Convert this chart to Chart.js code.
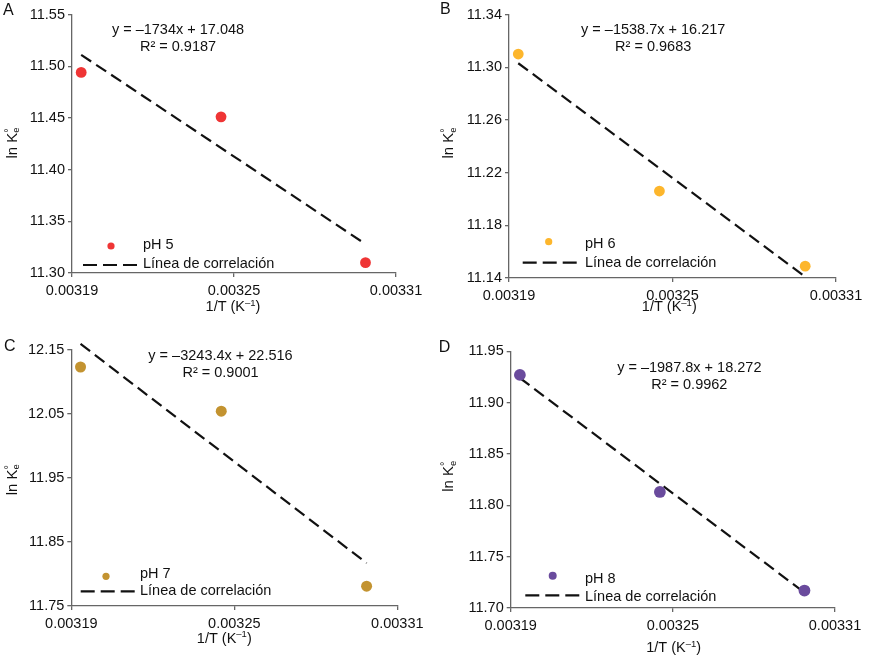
<!DOCTYPE html>
<html><head><meta charset="utf-8">
<script src="https://cdn.jsdelivr.net/npm/chart.js@4.4.1/dist/chart.umd.min.js"></script>
<style>
html,body{margin:0;padding:0;background:#fff;}
#wrap{position:relative;width:873px;height:657px;overflow:hidden;}
#wrap canvas{position:absolute;}
</style></head><body><div id="wrap"></div>
<script>
// ---- data ----
const invT = [0.0031934, 0.0032452, 0.0032987];        // 1/T (K^-1)
const lnK_pH5 = [11.494, 11.451, 11.310];
const lnK_pH6 = [11.310, 11.206, 11.149];
const lnK_pH7 = [12.123, 12.054, 11.781];
const lnK_pH8 = [11.927, 11.813, 11.717];
const trendX = [0.0031934, 0.0032987];
const trend_pH5 = [11.511, 11.328];
const trend_pH6 = [11.303, 11.141];
const trend_pH7 = [12.159, 11.817];
const trend_pH8 = [11.924, 11.715];
const xTicks = [0.00319, 0.00325, 0.00331];
const yTicks_pH5 = [11.30, 11.35, 11.40, 11.45, 11.50, 11.55];
const yTicks_pH6 = [11.14, 11.18, 11.22, 11.26, 11.30, 11.34];
const yTicks_pH7 = [11.75, 11.85, 11.95, 12.05, 12.15];
const yTicks_pH8 = [11.70, 11.75, 11.80, 11.85, 11.90, 11.95];
const seriesLabels = ['pH 5', 'pH 6', 'pH 7', 'pH 8'];
const trendLabel = 'Línea de correlación';
const equations = ['y = –1734x + 17.048', 'y = –1538.7x + 16.217', 'y = –3243.4x + 22.516', 'y = –1987.8x + 18.272'];
const r2Labels = ['R² = 0.9187', 'R² = 0.9683', 'R² = 0.9001', 'R² = 0.9962'];
const panelLetters = ['A', 'B', 'C', 'D'];

// ---- layout / style ----
const FONT = '"Liberation Sans", Arial, Helvetica, sans-serif';
const FS = 14.5;
const AXIS = '#666666';
const DASH = [12, 6];
const panels = [
  {y: lnK_pH5, trend: trend_pH5, yTicks: yTicks_pH5, color: '#ef3535',
   box: {x: 0, y: 0, w: 436, h: 328}, area: {l: 72, t: 14.5, r: 396, b: 273},
   letter: [3, 11], eq: [178, 30, 46.7], legPt: [111, 246], txt1: [143, 245], dash: [83, 137, 265], txt2: [143, 263.5],
   yTitle: [12.7, 143], xTitle: [233, 307], pr: 5.4, lr: 3.6},
  {y: lnK_pH6, trend: trend_pH6, yTicks: yTicks_pH6, color: '#fdb62c',
   box: {x: 436, y: 0, w: 437, h: 328}, area: {l: 73, t: 14.5, r: 400, b: 278},
   letter: [4, 10], eq: [217.2, 30, 46.7], legPt: [112.7, 241.7], txt1: [149, 244.3], dash: [86.7, 141.7, 262.7], txt2: [149, 263.3],
   yTitle: [13.3, 143], xTitle: [233.3, 307.3], pr: 5.4, lr: 3.6},
  {y: lnK_pH7, trend: trend_pH7, yTicks: yTicks_pH7, color: '#c39330',
   box: {x: 0, y: 328, w: 436, h: 329}, area: {l: 71.3, t: 21.7, r: 397.3, b: 278},
   letter: [4, 19], eq: [220.5, 28, 44.7], legPt: [106, 248.3], txt1: [140, 245.7], dash: [80.7, 135, 263.3], txt2: [140, 263.3],
   yTitle: [12.7, 151.7], xTitle: [224.3, 310.7], pr: 5.5, lr: 3.6},
  {y: lnK_pH8, trend: trend_pH8, yTicks: yTicks_pH8, color: '#6a4b9d',
   box: {x: 436, y: 328, w: 437, h: 329}, area: {l: 74.7, t: 23.3, r: 399, b: 280},
   letter: [2.7, 20], eq: [253.3, 40, 56.7], legPt: [116.7, 247.7], txt1: [149, 250.7], dash: [89.3, 144, 267.3], txt2: [149, 269.3],
   yTitle: [13.3, 148.3], xTitle: [237.7, 320], pr: 5.9, lr: 4}
];

const decor = {
  id: 'decor',
  afterDraw(chart, args, o) {
    const ctx = chart.ctx, p = o.p, i = o.i;
    ctx.save();
    ctx.fillStyle = '#111';
    ctx.textBaseline = 'middle';
    // letter
    ctx.font = '16px ' + FONT;
    ctx.textAlign = 'left';
    ctx.fillText(panelLetters[i], p.letter[0], p.letter[1]);
    // equation
    ctx.font = FS + 'px ' + FONT;
    ctx.textAlign = 'center';
    ctx.fillText(equations[i], p.eq[0], p.eq[1]);
    ctx.fillText(r2Labels[i], p.eq[0], p.eq[2]);
    // legend
    ctx.fillStyle = p.color;
    ctx.beginPath(); ctx.arc(p.legPt[0], p.legPt[1], p.lr, 0, Math.PI * 2); ctx.fill();
    ctx.strokeStyle = '#111'; ctx.lineWidth = 2.2; ctx.setLineDash([14, 6]);
    ctx.beginPath(); ctx.moveTo(p.dash[0], p.dash[2]); ctx.lineTo(p.dash[1], p.dash[2]); ctx.stroke();
    ctx.setLineDash([]);
    ctx.fillStyle = '#111';
    ctx.textAlign = 'left';
    ctx.fillText(seriesLabels[i], p.txt1[0], p.txt1[1]);
    ctx.fillText(trendLabel, p.txt2[0], p.txt2[1]);
    // x title: 1/T (K^-1)
    ctx.font = FS + 'px ' + FONT;
    const a = '1/T (K', b = '–1', c = ')';
    const small = '9.5px ' + FONT;
    const wa = ctx.measureText(a).width, wc = ctx.measureText(c).width;
    ctx.font = small; const wb = ctx.measureText(b).width;
    let x = p.xTitle[0] - (wa + wb + wc) / 2, yy = p.xTitle[1];
    ctx.font = FS + 'px ' + FONT; ctx.fillText(a, x, yy); x += wa;
    ctx.font = small; ctx.fillText(b, x, yy - 4); x += wb;
    ctx.font = FS + 'px ' + FONT; ctx.fillText(c, x, yy);
    // y title: ln Ke°
    ctx.translate(p.yTitle[0], p.yTitle[1]);
    ctx.rotate(-Math.PI / 2);
    ctx.font = '15px ' + FONT;
    const t = 'ln K', wt = ctx.measureText(t).width;
    ctx.font = small; const ws = Math.max(ctx.measureText('e').width, ctx.measureText('°').width);
    let xs = -(wt + ws) / 2;
    ctx.font = '15px ' + FONT; ctx.fillText(t, xs, 0); xs += wt;
    ctx.font = small; ctx.fillText('e', xs, 4);
    ctx.font = '11px ' + FONT; ctx.fillText('°', xs, -4);
    ctx.restore();
  }
};

panels.forEach((p, i) => {
  const cv = document.createElement('canvas');
  cv.width = p.box.w; cv.height = p.box.h;
  cv.style.left = p.box.x + 'px'; cv.style.top = p.box.y + 'px';
  cv.style.width = p.box.w + 'px'; cv.style.height = p.box.h + 'px';
  document.getElementById('wrap').appendChild(cv);
  const yt = p.yTicks;
  new Chart(cv, {
    type: 'scatter',
    data: {
      datasets: [
        {label: seriesLabels[i], data: invT.map((x, k) => ({x: x, y: p.y[k]})),
         backgroundColor: p.color, borderColor: p.color, pointRadius: p.pr, pointHoverRadius: p.pr, borderWidth: 0, order: 1},
        {label: trendLabel, type: 'line', data: trendX.map((x, k) => ({x: x, y: p.trend[k]})),
         borderColor: '#111', borderWidth: 2.2, borderDash: DASH, pointRadius: 0, fill: false, clip: false, order: 2}
      ]
    },
    options: {
      responsive: false, animation: false, devicePixelRatio: 1,
      layout: {padding: {left: 0, top: p.area.t, right: p.box.w - p.area.r, bottom: 0}},
      plugins: {legend: {display: false}, tooltip: {enabled: false}, decor: {p: p, i: i}},
      scales: {
        x: {type: 'linear', min: xTicks[0], max: xTicks[xTicks.length - 1],
            afterBuildTicks: s => { s.ticks = xTicks.map(v => ({value: v})); },
            afterFit: s => { s.height = p.box.h - p.area.b; },
            grid: {drawOnChartArea: false, drawTicks: true, tickLength: 4, tickColor: AXIS, lineWidth: 1.3},
            border: {display: true, color: AXIS, width: 1.3},
            ticks: {color: '#111', padding: 5, font: {family: FONT, size: FS}, maxRotation: 0,
                    callback: v => v.toFixed(5)}},
        y: {type: 'linear', min: yt[0], max: yt[yt.length - 1],
            afterBuildTicks: s => { s.ticks = yt.map(v => ({value: v})); },
            afterFit: s => { s.width = p.area.l; },
            grid: {drawOnChartArea: false, drawTicks: true, tickLength: 4, tickColor: AXIS, lineWidth: 1.3},
            border: {display: true, color: AXIS, width: 1.3},
            ticks: {color: '#111', padding: 3, font: {family: FONT, size: FS},
                    callback: v => v.toFixed(2)}}
      }
    },
    plugins: [decor]
  });
});
</script></body></html>
